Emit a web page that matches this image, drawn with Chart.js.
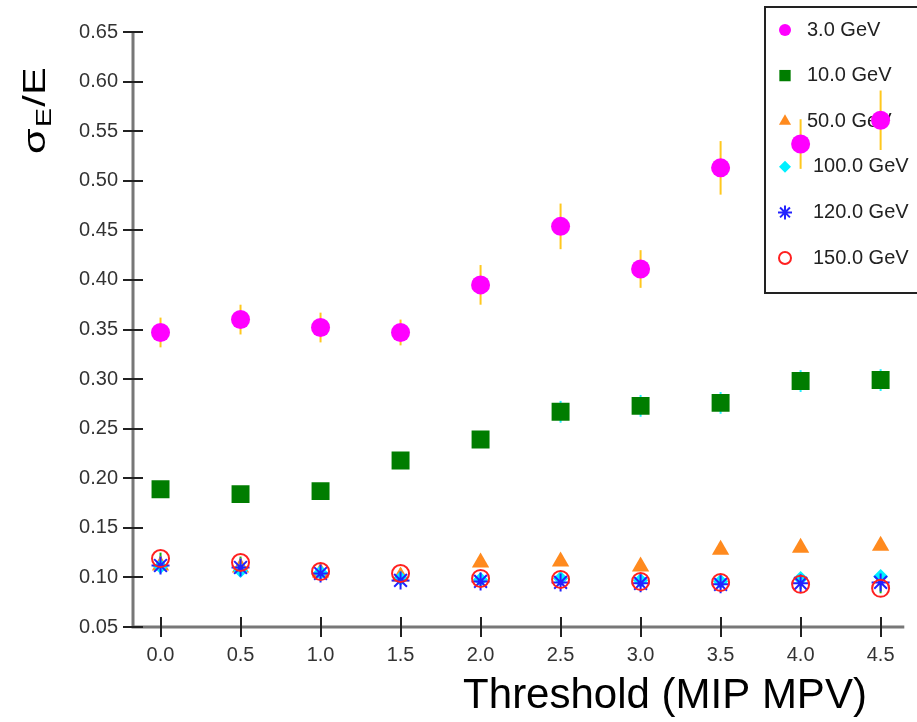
<!DOCTYPE html>
<html>
<head>
<meta charset="utf-8">
<title>Energy resolution vs threshold</title>
<script src="https://cdn.jsdelivr.net/npm/chart.js@4.4.1/dist/chart.umd.min.js"></script>
<style>
  html, body { margin: 0; padding: 0; background: #fff; }
  canvas { display: block; }
</style>
</head>
<body>
<canvas id="res" width="917" height="722"></canvas>
<script>
// ─── Data ───
const thresholds = [0.0, 0.5, 1.0, 1.5, 2.0, 2.5, 3.0, 3.5, 4.0, 4.5];
const xTicks = [0.0, 0.5, 1.0, 1.5, 2.0, 2.5, 3.0, 3.5, 4.0, 4.5];
const yTicks = [0.05, 0.10, 0.15, 0.20, 0.25, 0.30, 0.35, 0.40, 0.45, 0.50, 0.55, 0.60, 0.65];
const energies = ['3.0 GeV', '10.0 GeV', '50.0 GeV', '100.0 GeV', '120.0 GeV', '150.0 GeV'];

const res3   = [0.347, 0.360, 0.352, 0.347, 0.395, 0.454, 0.411, 0.513, 0.537, 0.561];
const err3   = [0.015, 0.015, 0.015, 0.013, 0.020, 0.023, 0.019, 0.027, 0.025, 0.030];
const res10  = [0.189, 0.184, 0.187, 0.218, 0.239, 0.267, 0.273, 0.276, 0.298, 0.299];
const err10  = [0.007, 0.007, 0.007, 0.007, 0.008, 0.011, 0.011, 0.011, 0.011, 0.011];
const res50  = [0.112, 0.110, 0.105, 0.101, 0.115, 0.116, 0.111, 0.128, 0.130, 0.132];
const res100 = [0.111, 0.107, 0.105, 0.099, 0.098, 0.099, 0.097, 0.096, 0.099, 0.101];
const res120 = [0.112, 0.110, 0.104, 0.097, 0.096, 0.095, 0.094, 0.093, 0.094, 0.095];
const res150 = [0.119, 0.115, 0.106, 0.104, 0.099, 0.098, 0.096, 0.095, 0.093, 0.089];
const err150 = [0.006, 0.006, 0.005, 0.005, 0.005, 0.005, 0.005, 0.005, 0.005, 0.005];

const FONT = "'Liberation Sans', Arial, sans-serif";

function pts(ys) { return thresholds.map((x, i) => ({ x, y: ys[i] })); }

// ─── Plugins ───
// Legend box sits inside the plot, under the markers
const legendBox = {
    id: 'legendBox',
    beforeDatasetsDraw(chart) {
        const ctx = chart.ctx;
        ctx.save();
        ctx.fillStyle = '#fff';
        ctx.strokeStyle = '#222';
        ctx.lineWidth = 2;
        ctx.fillRect(765, 7, 170, 286);
        ctx.strokeRect(765, 7, 170, 286);
        ctx.font = '20px ' + FONT;
        ctx.textBaseline = 'middle';
        ctx.textAlign = 'left';
        chart.data.datasets.forEach((ds, i) => {
            const y = 30 + i * 45.6;
            ctx.fillStyle = ds.backgroundColor;
            ctx.strokeStyle = ds.borderColor;
            ctx.lineWidth = ds.borderWidth || 1;
            Chart.helpers.drawPoint(ctx, {
                pointStyle: ds.pointStyle, rotation: 0,
                radius: ds.legendRadius, borderWidth: ds.borderWidth
            }, 785, y);
            ctx.fillStyle = '#222';
            ctx.fillText(ds.label, ds.label.length > 8 ? 813 : 807, y);
        });
        ctx.restore();
    }
};

// Vertical error bars, drawn before the markers
const errorBars = {
    id: 'errorBars',
    beforeDatasetsDraw(chart) {
        const ctx = chart.ctx;
        const xs = chart.scales.x, ys = chart.scales.y;
        ctx.save();
        chart.data.datasets.forEach(ds => {
            if (!ds.errors) return;
            ctx.strokeStyle = ds.errorColor;
            ctx.lineWidth = 2;
            ds.data.forEach((p, i) => {
                const px = xs.getPixelForValue(p.x);
                ctx.beginPath();
                ctx.moveTo(px, ys.getPixelForValue(p.y - ds.errors[i]));
                ctx.lineTo(px, ys.getPixelForValue(p.y + ds.errors[i]));
                ctx.stroke();
            });
        });
        ctx.restore();
    }
};

// Axis lines with ticks crossing them, plus the two titles
const axesDraw = {
    id: 'axesDraw',
    afterDraw(chart) {
        const ctx = chart.ctx;
        const { left, right, top, bottom } = chart.chartArea;
        const xs = chart.scales.x, ys = chart.scales.y;
        ctx.save();
        ctx.strokeStyle = '#777';
        ctx.lineWidth = 3;
        ctx.beginPath();
        ctx.moveTo(left, top);
        ctx.lineTo(left, bottom);
        ctx.lineTo(right, bottom);
        ctx.stroke();

        ctx.strokeStyle = '#222';
        ctx.lineWidth = 2;
        yTicks.forEach(v => {
            const py = Math.round(ys.getPixelForValue(v));
            ctx.beginPath();
            ctx.moveTo(left - 10, py);
            ctx.lineTo(left + 10, py);
            ctx.stroke();
        });
        xTicks.forEach(v => {
            const px = Math.round(xs.getPixelForValue(v));
            ctx.beginPath();
            ctx.moveTo(px, bottom - 10);
            ctx.lineTo(px, bottom + 10);
            ctx.stroke();
        });

        ctx.fillStyle = '#000';
        ctx.font = '42px ' + FONT;
        ctx.textAlign = 'center';
        ctx.textBaseline = 'alphabetic';
        ctx.fillText('Threshold (MIP MPV)', 665, 708);

        // σ_E / E, rotated and a little stretched along the text
        ctx.translate(45, 154);
        ctx.rotate(-Math.PI / 2);
        ctx.scale(1.3, 1);
        ctx.textAlign = 'left';
        ctx.font = '32px ' + FONT;
        ctx.fillText('σ', 0, 0);
        let x = ctx.measureText('σ').width + 1;
        ctx.font = '22px ' + FONT;
        ctx.fillText('E', x, 6);
        x += ctx.measureText('E').width + 1;
        ctx.font = '32px ' + FONT;
        ctx.fillText('/E', x, 0);
        ctx.restore();
    }
};

// ─── Chart ───
new Chart(document.getElementById('res'), {
    type: 'scatter',
    data: {
        datasets: [
            { label: energies[0], data: pts(res3), pointStyle: 'circle', pointRadius: 9.5, legendRadius: 6,
              backgroundColor: '#ff00ff', borderColor: '#ff00ff', borderWidth: 0, errors: err3, errorColor: '#ffc81e', order: 0 },
            { label: energies[1], data: pts(res10), pointStyle: 'rect', pointRadius: 12.7, legendRadius: 8,
              backgroundColor: '#007d00', borderColor: '#007d00', borderWidth: 0, errors: err10, errorColor: '#20f0ff', order: 5 },
            { label: energies[2], data: pts(res50), pointStyle: 'triangle', pointRadius: 10, legendRadius: 7,
              backgroundColor: '#ff8a1e', borderColor: '#ff8a1e', borderWidth: 0, order: 4 },
            { label: energies[3], data: pts(res100), pointStyle: 'rectRot', pointRadius: 7.5, legendRadius: 6,
              backgroundColor: '#00f0ff', borderColor: '#00f0ff', borderWidth: 0, order: 3 },
            { label: energies[4], data: pts(res120), pointStyle: 'star', pointRadius: 9, legendRadius: 7,
              backgroundColor: '#2222ff', borderColor: '#2222ff', borderWidth: 2, order: 2 },
            { label: energies[5], data: pts(res150), pointStyle: 'circle', pointRadius: 8.5, legendRadius: 6,
              backgroundColor: 'rgba(0,0,0,0)', borderColor: '#ff2020', borderWidth: 2,
              errors: err150, errorColor: '#18b418', order: 1 }
        ]
    },
    options: {
        responsive: false,
        animation: false,
        devicePixelRatio: 1,
        events: [],
        layout: { padding: { left: 0, top: 32, right: 0, bottom: 0 } },
        plugins: { legend: { display: false }, tooltip: { enabled: false } },
        scales: {
            x: {
                type: 'linear', min: -0.172, max: 4.648,
                afterFit: s => { s.height = 95; },
                afterBuildTicks: s => { s.ticks = xTicks.map(v => ({ value: v })); },
                grid: { display: false, drawTicks: false },
                border: { display: false },
                ticks: { color: '#333', padding: 16, autoSkip: false, maxRotation: 0,
                         font: { family: FONT, size: 20 }, callback: v => v.toFixed(1) }
            },
            y: {
                type: 'linear', min: 0.05, max: 0.65,
                afterFit: s => { s.width = 133; },
                afterBuildTicks: s => { s.ticks = yTicks.map(v => ({ value: v })); },
                grid: { display: false, drawTicks: false },
                border: { display: false },
                ticks: { color: '#333', padding: 15, autoSkip: false,
                         font: { family: FONT, size: 20 }, callback: v => v.toFixed(2) }
            }
        }
    },
    plugins: [legendBox, errorBars, axesDraw]
});
</script>
</body>
</html>
